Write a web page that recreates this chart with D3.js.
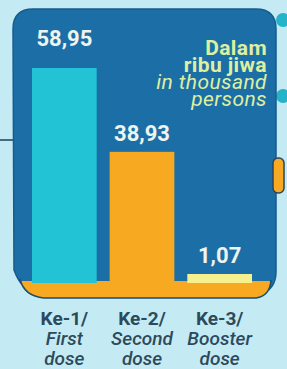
<!DOCTYPE html>
<html><head><meta charset="utf-8">
<script src="https://cdn.jsdelivr.net/npm/d3@7"></script>
<style>
html,body{margin:0;padding:0;background:#c4ebf4;}
svg{display:block;font-family:Roboto,"Noto Sans",sans-serif;}
</style></head>
<body>
<script>
const categories = ["Ke-1/", "Ke-2/", "Ke-3/"];
const categoriesEn = ["First", "Second", "Booster"];
const categoriesEn2 = ["dose", "dose", "dose"];
const values = [58.95, 38.93, 1.07];
const valueLabels = ["58,95", "38,93", "1,07"];
const unitLines = ["Dalam", "ribu jiwa", "in thousand", "persons"];

const W = 287, H = 369;
const colors = ["#22c3d5", "#f7a922", "#f6f08f"];
const svg = d3.select("body").append("svg").attr("width", W).attr("height", H);

svg.append("rect").attr("width", W).attr("height", H).attr("fill", "#c4ebf4");

// decorations behind panel
svg.append("circle").attr("cx", 283).attr("cy", 20).attr("r", 7).attr("fill", "#25b3c9");
svg.append("circle").attr("cx", 283).attr("cy", 96).attr("r", 7).attr("fill", "#25b3c9");
svg.append("line").attr("x1", 0).attr("x2", 14).attr("y1", 140).attr("y2", 140)
  .attr("stroke", "#2a4a62").attr("stroke-width", 1.6);

// panel
const panel = "M13,29 Q13,9 33,9 L256,9 Q276,9 276,29 L276,272 Q276,290 258,296 L40,296 Q22,292 14,270 Z";
svg.append("path").attr("d", panel).attr("fill", "#1c6fa6").attr("stroke", "#185b8c").attr("stroke-width", 1.5);

const x = d3.scaleBand().domain(categories).range([32, 252]).paddingInner(0.167).paddingOuter(0);
const base = 286;
const y = d3.scalePow().exponent(1.17).domain([0, 58.95]).range([base, 68]);
const minH = 12;

// orange base band
const band = "M21,281 L270,281 Q270,296 256,298 L44,298 Q24,296 21,281 Z";
svg.append("path").attr("d", band).attr("fill", "#f7a922");

svg.selectAll("rect.bar").data(values).join("rect").attr("class", "bar")
  .attr("x", (d, i) => x(categories[i]))
  .attr("width", x.bandwidth())
  .attr("y", d => Math.min(y(d), base - minH))
  .attr("height", d => Math.max(base - y(d), minH))
  .attr("fill", (d, i) => colors[i]);

// band front edge over bar bottoms
const band2 = "M21,283 L270,283 Q270,296 256,298 L44,298 Q24,296 21,283 Z";
svg.append("path").attr("d", band2).attr("fill", "#f7a922");
svg.append("path").attr("d", "M20,279 Q24,296 44,298 L256,298 Q270,296 271,280")
  .attr("fill", "none").attr("stroke", "#1d4e6e").attr("stroke-width", 1.5);

// right pill
svg.append("rect").attr("x", 273).attr("y", 158).attr("width", 11).attr("height", 35).attr("rx", 5)
  .attr("fill", "#f7a922").attr("stroke", "#2b4656").attr("stroke-width", 1.5);

// value labels
const maxV = d3.max(values);
svg.selectAll("text.val").data(values).join("text").attr("class", "val")
  .attr("x", (d, i) => x(categories[i]) + x.bandwidth() / 2)
  .attr("y", d => Math.min(y(d), base - minH) - (d === maxV ? 22 : 11))
  .attr("text-anchor", "middle").attr("fill", "#eef4ee")
  .attr("font-size", 22).attr("font-weight", 700)
  .text((d, i) => valueLabels[i]);

// unit text
const unit = svg.append("text").attr("text-anchor", "end").attr("fill", "#def0a0")
  .attr("font-size", 21).attr("letter-spacing", 0.4);
unitLines.forEach((t, i) => {
  unit.append("tspan").attr("x", 267).attr("y", 55 + i * 17)
    .attr("font-weight", i < 2 ? 700 : 400)
    .attr("font-style", i < 2 ? "normal" : "italic")
    .text(t);
});

// category labels
const cx = (i) => x(categories[i]) + x.bandwidth() / 2;
const lab = svg.append("g").attr("fill", "#2c4a5c").attr("text-anchor", "middle").attr("font-size", 19);
categories.forEach((c, i) => {
  lab.append("text").attr("x", cx(i)).attr("y", 325).attr("font-weight", 700).text(c);
  lab.append("text").attr("x", cx(i)).attr("y", 345).attr("font-style", "italic").attr("font-weight", 500).text(categoriesEn[i]);
  lab.append("text").attr("x", cx(i)).attr("y", 365).attr("font-style", "italic").attr("font-weight", 500).text(categoriesEn2[i]);
});
</script>
</body></html>
